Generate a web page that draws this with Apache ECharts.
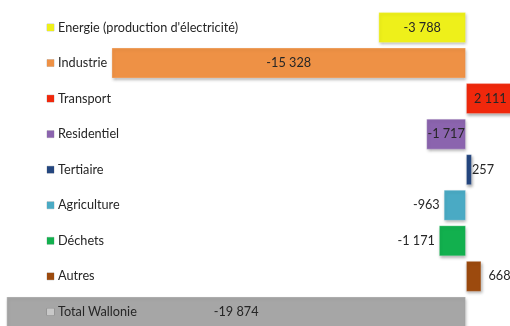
<!DOCTYPE html>
<html>
<head>
<meta charset="utf-8">
<script src="https://cdn.jsdelivr.net/npm/echarts@6/dist/echarts.min.js"></script>
<style>
  html, body { margin: 0; padding: 0; background: #ffffff; }
  #chart { width: 510px; height: 326px; }
</style>
</head>
<body>
<div id="chart"></div>
<script>
// Emissions balance per sector, Wallonia
const categories = [
  "Energie (production d'électricité)",
  "Industrie",
  "Transport",
  "Residentiel",
  "Tertiaire",
  "Agriculture",
  "Déchets",
  "Autres",
  "Total Wallonie"
];
const values = [-3788, -15328, 2111, -1717, 257, -963, -1171, 668, -19874];

// Sector palette
const palette = [
  "#eef01a", "#ee9145", "#f0280c", "#8b64ae", "#24467f",
  "#4aaac4", "#12b04e", "#9c4a0e", "#a6a6a6"
];

// Thousands separated by a space, French style
function fmt(v) {
  const s = Math.abs(v).toString().replace(/\B(?=(\d{3})+(?!\d))/g, " ");
  return (v < 0 ? "-" : "") + s;
}

const FONT = "Lato, 'Open Sans', sans-serif";
const rich = { t: { fontFamily: FONT, fontSize: 12.7, color: "#262626", padding: [0, 0, 0, 4] } };
palette.forEach(function (c, i) {
  rich["m" + i] = {
    backgroundColor: i === palette.length - 1 ? "#c8c8c8" : c,
    width: 7, height: 7, borderColor: "rgba(0,0,0,0.2)", borderWidth: 0.5
  };
});

const barData = values.map(function (v, i) {
  const small = Math.abs(v) < 1500;
  return {
    value: v,
    itemStyle: { color: palette[i] },
    label: {
      position: small ? (v < 0 ? "left" : "right") : "inside",
      distance: small ? (v < 0 ? 4 : (Math.abs(v) < 400 ? 0 : 7)) : 5
    }
  };
});

const chart = echarts.init(document.getElementById("chart"), null, { renderer: "canvas" });
chart.setOption({
  animation: false,
  backgroundColor: "#ffffff",
  grid: { left: 3.4, top: 9.7, width: 520.4, height: 320, outerBoundsMode: "none", containLabel: false },
  xAxis: {
    type: "value",
    min: -20000,
    max: 2500,
    show: false
  },
  yAxis: {
    type: "category",
    inverse: true,
    data: categories,
    z: 10,
    axisLine: { show: false, onZero: false },
    axisTick: { show: false },
    splitLine: { show: false },
    axisLabel: {
      align: "left",
      margin: -43.6,
      rich: rich,
      formatter: function (val, idx) { return "{m" + idx + "|}{t|" + val + "}"; }
    }
  },
  series: [{
    type: "bar",
    data: barData,
    barWidth: 31,
    clip: true,
    itemStyle: {
      shadowColor: "rgba(0,0,0,0.35)",
      shadowBlur: 3,
      shadowOffsetX: 1,
      shadowOffsetY: 2,
      borderColor: "rgba(255,255,255,0.25)",
      borderWidth: 1
    },
    label: {
      show: true,
      fontFamily: FONT,
      fontSize: 12.7,
      color: "#262626",
      formatter: function (p) { return fmt(p.value); }
    }
  }]
});
</script>
</body>
</html>
